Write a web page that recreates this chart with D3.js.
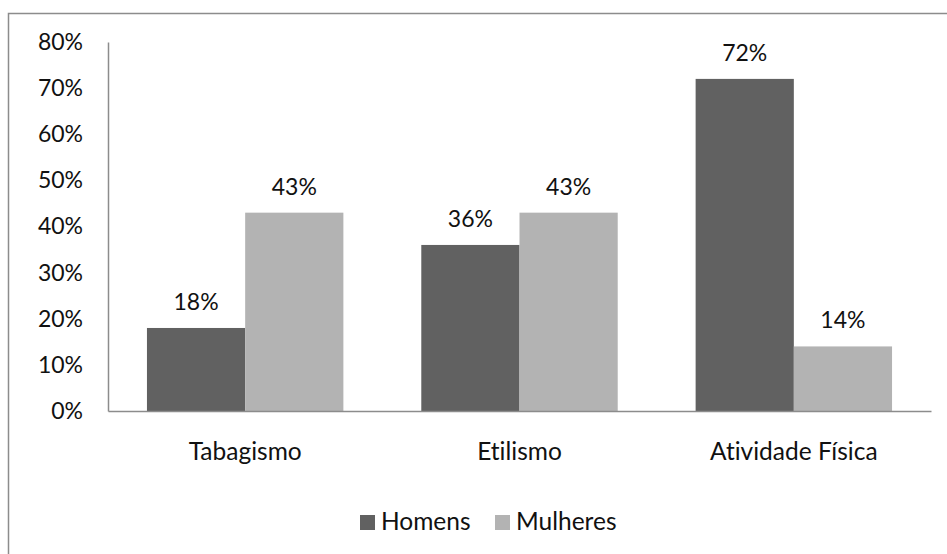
<!DOCTYPE html>
<html>
<head>
<meta charset="utf-8">
<script src="https://cdn.jsdelivr.net/npm/d3@7"></script>
<style>
  html, body { margin: 0; padding: 0; background: #fff; }
  svg { display: block; font-family: Lato, "Open Sans", sans-serif; }
  svg text { font-variant-ligatures: none; font-feature-settings: "liga" 0, "dlig" 0, "clig" 0; }
</style>
</head>
<body>
<svg id="chart" width="947" height="554"></svg>
<script>
// Percentage of respondents per habit, split by sex
const categories = ["Tabagismo", "Etilismo", "Atividade Física"];
const seriesNames = ["Homens", "Mulheres"];
const homens = [18, 36, 72];
const mulheres = [43, 43, 14];
const yTicks = [0, 10, 20, 30, 40, 50, 60, 70, 80];
const seriesColors = ["#616161", "#b3b3b3"];

const seriesValues = [homens, mulheres];

const svg = d3.select("#chart");
const W = 947, H = 554;
const plot = { left: 108, right: 931, top: 42, bottom: 411 };
const numSize = 23;   // percentage labels
const wordSize = 24.5; // category and legend labels
const textColor = "#111";

// Outer chart frame
svg.append("rect")
  .attr("x", 8.5).attr("y", 13.5)
  .attr("width", W + 10).attr("height", H + 10)
  .attr("fill", "none").attr("stroke", "#8c8c8c").attr("stroke-width", 1.5);

const x = d3.scaleBand().domain(categories).range([plot.left, plot.right]).padding(0);
const gapRatio = 0.284;
const xInner = d3.scaleBand().domain(seriesNames)
  .range([0, x.bandwidth()]).paddingInner(0).paddingOuter(gapRatio / (1 - gapRatio));
const y = d3.scaleLinear().domain([0, 80]).range([plot.bottom, plot.top]);

// Y axis
const yAxis = svg.append("g")
  .attr("transform", `translate(${plot.left},0)`)
  .call(d3.axisLeft(y).tickValues(yTicks).tickFormat(d => d + "%").tickSize(0).tickPadding(25));
yAxis.select(".domain").attr("stroke", "#8c8c8c").attr("stroke-width", 1.5);
yAxis.selectAll("text").attr("font-size", numSize).attr("fill", textColor)
  .attr("font-family", "Lato, 'Open Sans', sans-serif");

// Bars
const groups = svg.append("g").selectAll("g")
  .data(categories)
  .join("g")
  .attr("transform", d => `translate(${x(d)},0)`);

seriesNames.forEach((name, si) => {
  groups.append("rect")
    .attr("x", xInner(name))
    .attr("width", xInner.bandwidth())
    .attr("y", (d, i) => y(seriesValues[si][i]))
    .attr("height", (d, i) => plot.bottom - y(seriesValues[si][i]))
    .attr("fill", seriesColors[si]);

  groups.append("text")
    .attr("x", xInner(name) + xInner.bandwidth() / 2)
    .attr("y", (d, i) => y(seriesValues[si][i]) - 18)
    .attr("text-anchor", "middle")
    .attr("font-size", numSize)
    .attr("fill", textColor)
    .text((d, i) => seriesValues[si][i] + "%");
});

// X axis
const xAxis = svg.append("g")
  .attr("transform", `translate(0,${plot.bottom})`)
  .call(d3.axisBottom(x).tickSize(0).tickPadding(32));
xAxis.select(".domain").attr("stroke", "#8c8c8c").attr("stroke-width", 1.5);
xAxis.selectAll("text").attr("font-size", wordSize).attr("fill", textColor)
  .attr("font-family", "Lato, 'Open Sans', sans-serif");

// Legend
const legendItems = [
  { name: seriesNames[0], color: seriesColors[0], sx: 360 },
  { name: seriesNames[1], color: seriesColors[1], sx: 495 }
];
const legend = svg.append("g").selectAll("g").data(legendItems).join("g");
legend.append("rect")
  .attr("x", d => d.sx).attr("y", 515)
  .attr("width", 15).attr("height", 15)
  .attr("fill", d => d.color);
legend.append("text")
  .attr("x", d => d.sx + 21).attr("y", 530)
  .attr("font-size", wordSize).attr("fill", textColor)
  .text(d => d.name);
</script>
</body>
</html>
